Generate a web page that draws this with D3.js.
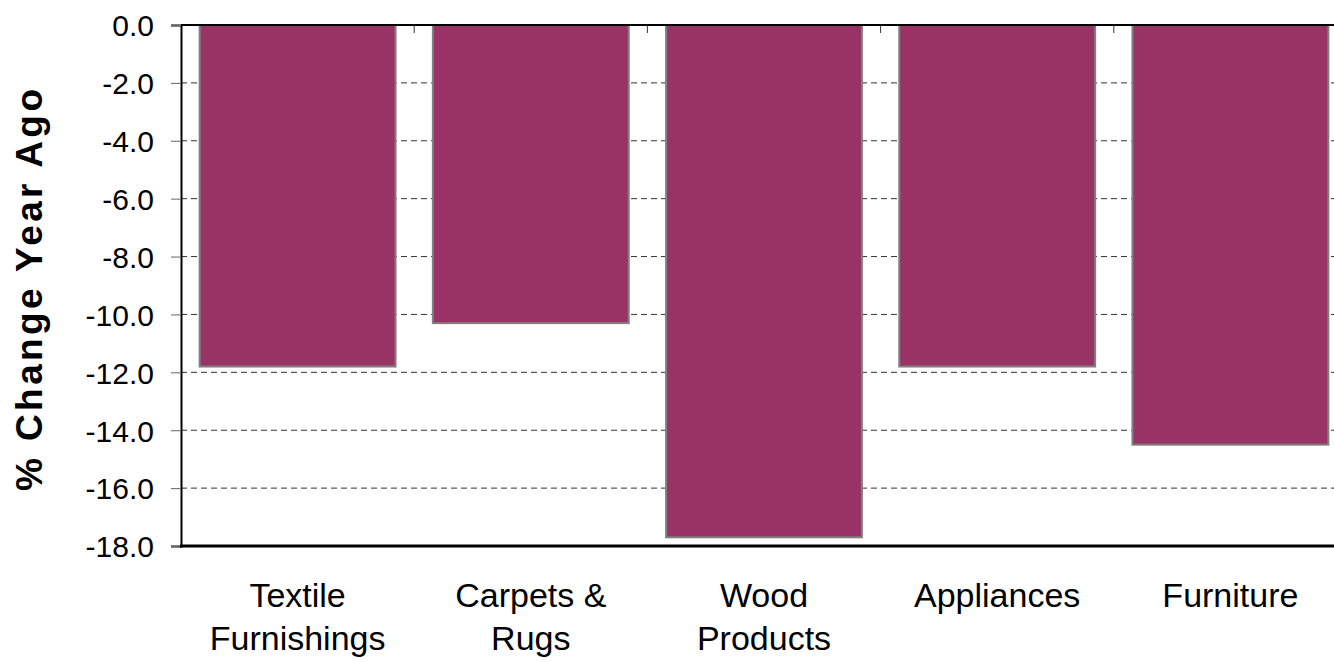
<!DOCTYPE html>
<html>
<head>
<meta charset="utf-8">
<script src="https://cdn.jsdelivr.net/npm/d3@7"></script>
<style>
  body { margin: 0; background: #fff; }
  text { font-family: "Liberation Sans", Arial, sans-serif; }
</style>
</head>
<body>
<div id="chart"></div>
<script>
"use strict";

// Donnees
var categories = [["Textile", "Furnishings"], ["Carpets &", "Rugs"], ["Wood", "Products"], ["Appliances"], ["Furniture"]];
var valeurs = [-11.8, -10.3, -17.7, -11.8, -14.5];
var ticksY = [0, -2, -4, -6, -8, -10, -12, -14, -16, -18];

var larg = 1334, haut = 662;
var gauche = 181, haut0 = 25, bas = 546, droite = 1347;

var svg = d3.select("#chart").append("svg")
  .attr("width", larg)
  .attr("height", haut);

var x = d3.scaleBand()
  .domain(d3.range(categories.length))
  .range([gauche, droite])
  .paddingInner(0.16)
  .paddingOuter(0.08);

var y = d3.scaleLinear()
  .domain([0, -18])
  .range([haut0, bas]);

// grille pointillee
svg.append("g").selectAll("line")
  .data(ticksY.filter(function(d){ return d !== 0 && d !== -18; }))
  .enter().append("line")
  .attr("x1", gauche).attr("x2", larg)
  .attr("y1", function(d){ return y(d); })
  .attr("y2", function(d){ return y(d); })
  .attr("stroke", "#333")
  .attr("stroke-width", 1)
  .attr("stroke-dasharray", "6,4");

// barres
svg.append("g").selectAll("rect")
  .data(valeurs)
  .enter().append("rect")
  .attr("x", function(d, i){ return x(i); })
  .attr("y", y(0))
  .attr("width", x.bandwidth())
  .attr("height", function(d){ return y(d) - y(0); })
  .attr("fill", "#993366")
  .attr("stroke", "#808080")
  .attr("stroke-width", 2);

// axe Y
var axeY = d3.axisLeft(y)
  .tickValues(ticksY)
  .tickSize(10)
  .tickFormat(d3.format(".1f"));
var gY = svg.append("g")
  .attr("transform", "translate(" + gauche + ",0)")
  .call(axeY);
gY.select(".domain").attr("stroke", "#000").attr("stroke-width", 2);
gY.selectAll(".tick line").attr("stroke", "#666");
gY.selectAll(".tick text")
  .attr("x", -27)
  .attr("dy", "0.36em")
  .attr("font-size", "30px")
  .attr("fill", "#000")
  .text(function(d){ return d === 0 ? "0.0" : d3.format(".1f")(d).replace("−", "-"); });

// ligne du haut (axe des categories) avec petites graduations
svg.append("line")
  .attr("x1", gauche).attr("x2", larg)
  .attr("y1", y(0)).attr("y2", y(0))
  .attr("stroke", "#000").attr("stroke-width", 2);
var bornes = d3.range(1, categories.length).map(function(i){ return x(i) - x.step() * x.paddingInner() / 2; });
svg.append("g").selectAll("line")
  .data(bornes)
  .enter().append("line")
  .attr("x1", function(d){ return d; })
  .attr("x2", function(d){ return d; })
  .attr("y1", y(0)).attr("y2", y(0) + 8)
  .attr("stroke", "#333").attr("stroke-width", 1);

// ligne du bas
svg.append("line")
  .attr("x1", gauche - 1).attr("x2", larg)
  .attr("y1", bas).attr("y2", bas)
  .attr("stroke", "#000").attr("stroke-width", 3);

// etiquettes des categories
var etiq = svg.append("g").selectAll("text")
  .data(categories)
  .enter().append("text")
  .attr("x", function(d, i){ return x(i) + x.bandwidth() / 2; })
  .attr("y", 607)
  .attr("text-anchor", "middle")
  .attr("font-size", "34px")
  .attr("fill", "#000");
etiq.selectAll("tspan")
  .data(function(d){ return d; })
  .enter().append("tspan")
  .attr("x", function(){ return d3.select(this.parentNode).attr("x"); })
  .attr("dy", function(d, i){ return i === 0 ? 0 : 43; })
  .text(function(d){ return d; });

// titre de l'axe Y
svg.append("text")
  .attr("transform", "translate(42," + 290 + ") rotate(-90)")
  .attr("text-anchor", "middle")
  .attr("font-size", "37px")
  .attr("font-weight", "bold")
  .attr("textLength", 402)
  .attr("lengthAdjust", "spacing")
  .attr("fill", "#000")
  .text("% Change Year Ago");
</script>
</body>
</html>
